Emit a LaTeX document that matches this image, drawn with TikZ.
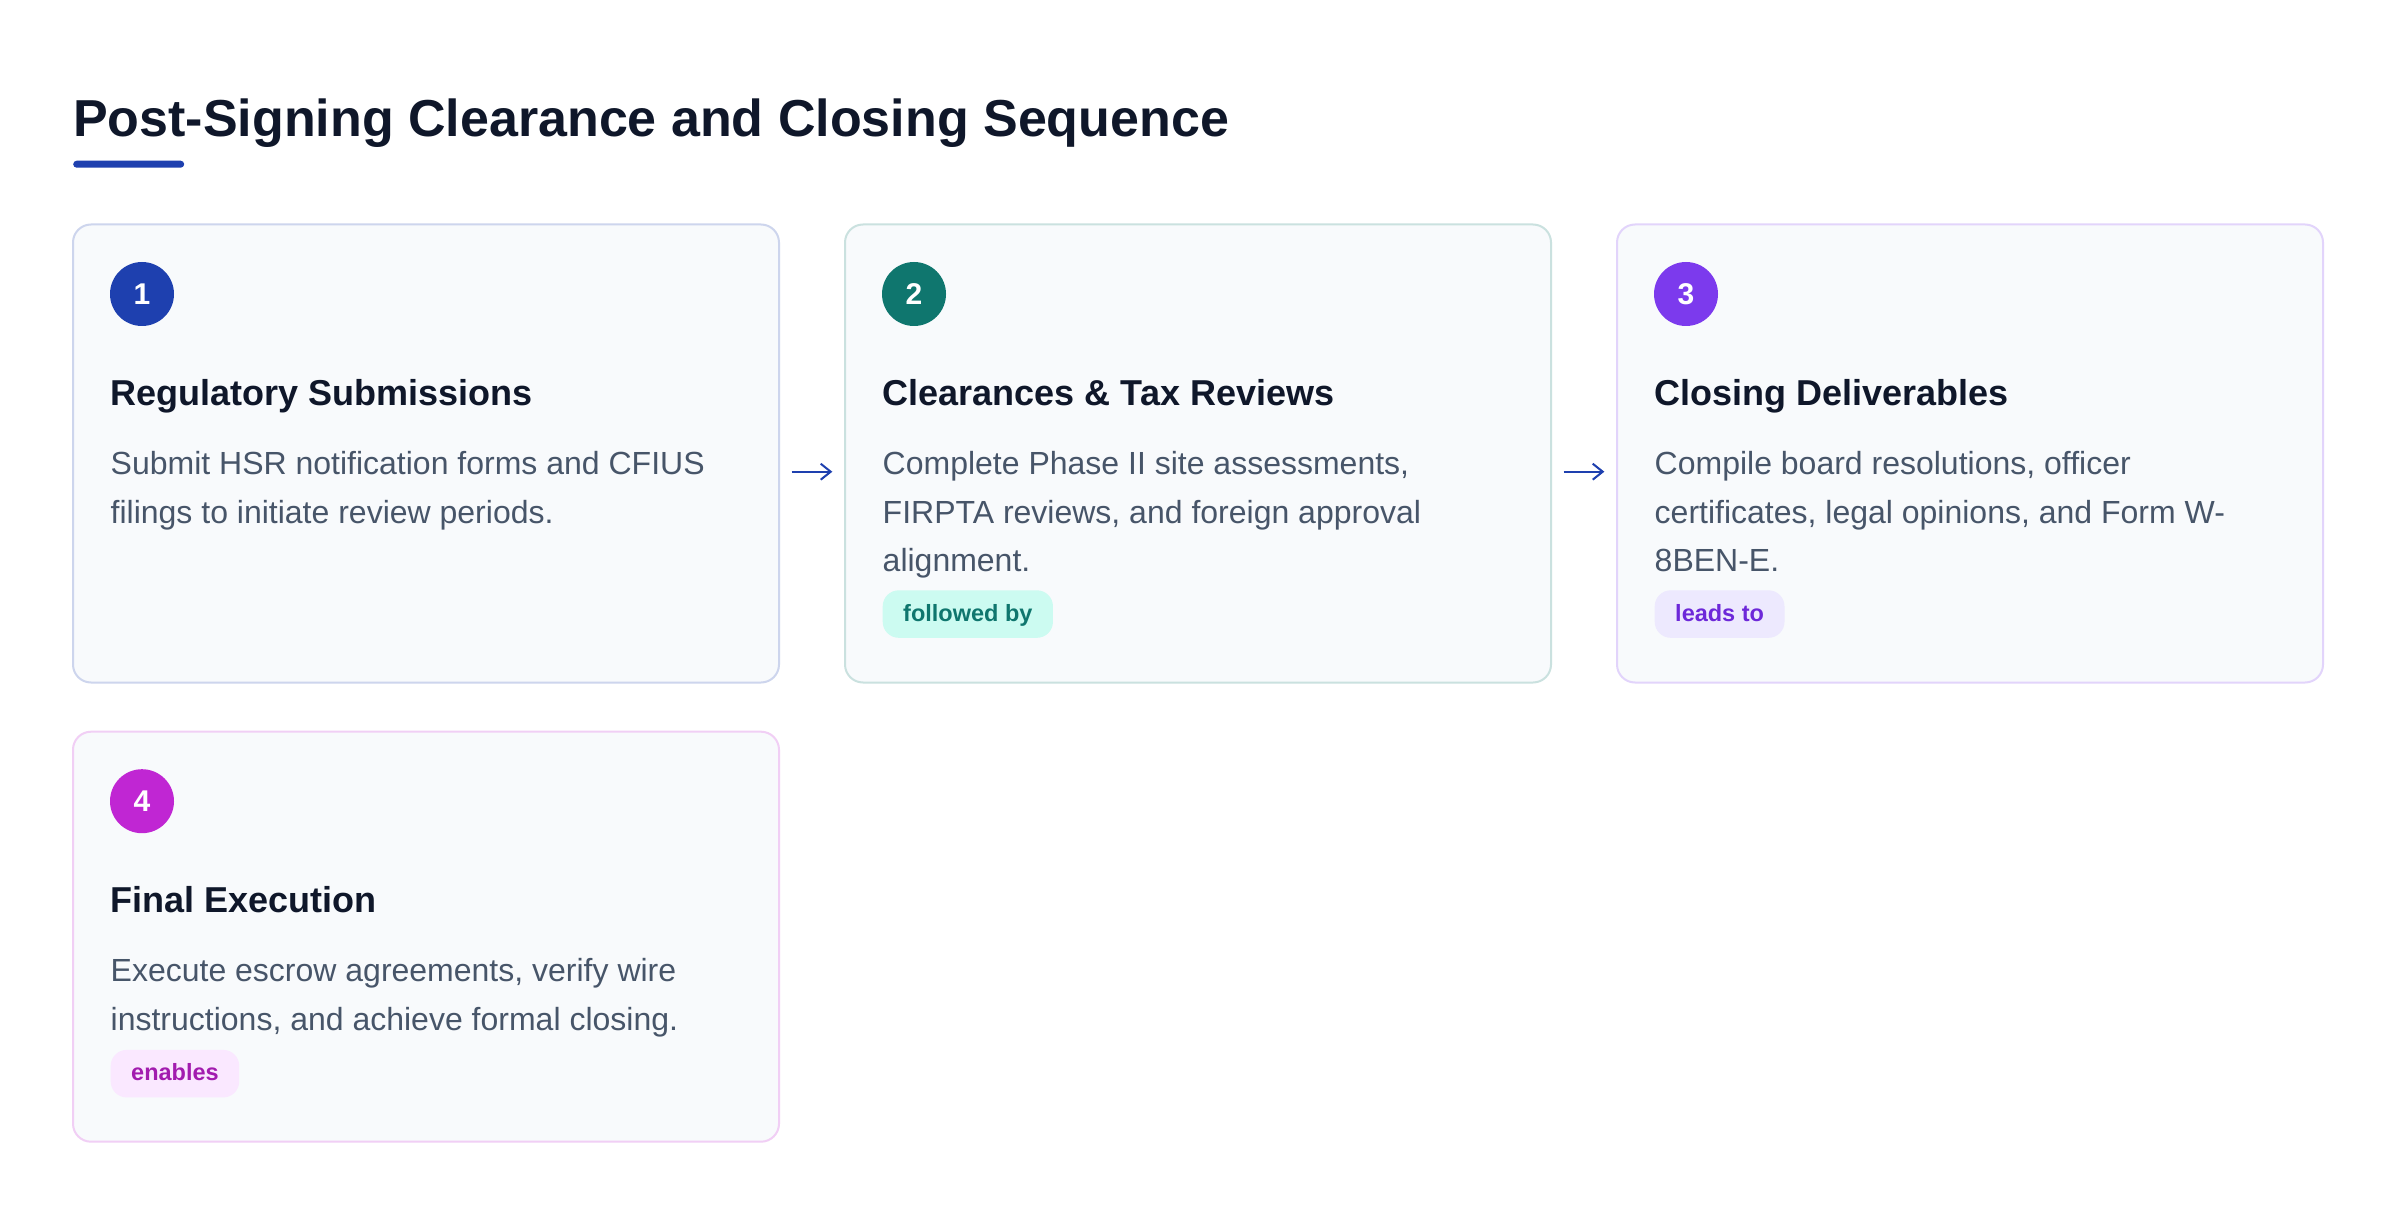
\documentclass[tikz,border=0pt]{standalone}
\usepackage{fontspec}
\setmainfont{Liberation Sans}
\usetikzlibrary{arrows.meta}
\definecolor{navy}{HTML}{0F172A}
\definecolor{slate}{HTML}{475569}
\definecolor{cardbg}{HTML}{F8FAFC}
\definecolor{cA}{HTML}{1E40AF}
\definecolor{cB}{HTML}{0F766E}
\definecolor{cC}{HTML}{7C3AED}
\definecolor{cD}{HTML}{C026D3}
\definecolor{pillBbg}{HTML}{CCFBF1}
\definecolor{pillBtx}{HTML}{0F766E}
\definecolor{pillCbg}{HTML}{EDE9FE}
\definecolor{pillCtx}{HTML}{6D28D9}
\definecolor{pillDbg}{HTML}{FAE8FF}
\definecolor{pillDtx}{HTML}{A21CAF}
\begin{document}
\begin{tikzpicture}[x=1pt,y=1pt,
  card/.style={draw=#1!22!white, line width=2pt, fill=cardbg, rounded corners=18pt,
    anchor=north west, inner sep=0pt, outer sep=0pt, minimum width=706pt},
  badge/.style={circle, fill=#1, text=white, minimum size=64pt, inner sep=0pt,
    font=\fontsize{30}{36}\selectfont\bfseries},
  heading/.style={anchor=base west, inner sep=0pt, text=navy,
    font=\fontsize{36}{43}\selectfont\bfseries},
  body/.style={anchor=north west, inner sep=0pt, align=left, text=slate,
    font=\fontsize{32}{48.3}\selectfont},
  pill/.style 2 args={fill=#1, text=#2, rounded corners=16pt, anchor=north west,
    inner xsep=20.5pt, inner ysep=0pt, minimum height=47.5pt, text height=17pt, text depth=3pt,
    font=\fontsize{23.5}{28}\selectfont\bfseries},
  flow/.style={draw=cA, line width=2pt, -{Straight Barb[length=10pt,width=16pt]},
    shorten <=12.7pt, shorten >=12.7pt}
]
\fill[white] (0,0) rectangle (2400,-1214);
\useasboundingbox (0,0) rectangle (2400,-1214);

% title
\node[anchor=base west, inner sep=0pt, text=navy, font=\fontsize{52}{60}\selectfont\bfseries]
  (title) at (73,-136.5) {Post-Signing Clearance and Closing Sequence};
\node[fill=cA, rounded corners=3.5pt, minimum width=111pt, minimum height=7pt, inner sep=0pt,
  anchor=north west] (bar) at (73,-160.5) {};

% cards
\node[card=cA, minimum height=458pt] (c1) at (73,-224.5) {};
\node[card=cB, minimum height=458pt] (c2) at (845,-224.5) {};
\node[card=cC, minimum height=458pt] (c3) at (1617,-224.5) {};
\node[card=cD, minimum height=410pt] (c4) at (73,-731.7) {};

% card 1
\node[badge=cA] (b1) at ([shift={(69,-69.5)}]c1.north west) {1};
\node[heading] (h1) at ([shift={(37.5,-180.5)}]c1.north west) {Regulatory Submissions};
\node[body] (t1) at ([shift={(37.5,-216.2)}]c1.north west)
  {\strut Submit HSR notification forms and CFIUS\\filings to initiate review periods.};

% card 2
\node[badge=cB] (b2) at ([shift={(69,-69.5)}]c2.north west) {2};
\node[heading] (h2) at ([shift={(37.5,-180.5)}]c2.north west) {Clearances \& Tax Reviews};
\node[body] (t2) at ([shift={(37.5,-216.2)}]c2.north west)
  {\strut Complete Phase II site assessments,\\FIRPTA reviews, and foreign approval\\alignment.};
\node[pill={pillBbg}{pillBtx}] (p2) at ([shift={(37.5,-365.6)}]c2.north west) {followed by};

% card 3
\node[badge=cC] (b3) at ([shift={(69,-69.5)}]c3.north west) {3};
\node[heading] (h3) at ([shift={(37.5,-180.5)}]c3.north west) {Closing Deliverables};
\node[body] (t3) at ([shift={(37.5,-216.2)}]c3.north west)
  {\strut Compile board resolutions, officer\\certificates, legal opinions, and Form W-\\8BEN-E.};
\node[pill={pillCbg}{pillCtx}] (p3) at ([shift={(37.5,-365.6)}]c3.north west) {leads to};

% card 4
\node[badge=cD] (b4) at ([shift={(69,-69.5)}]c4.north west) {4};
\node[heading] (h4) at ([shift={(37.5,-180.5)}]c4.north west) {Final Execution};
\node[body] (t4) at ([shift={(37.5,-216.2)}]c4.north west)
  {\strut Execute escrow agreements, verify wire\\instructions, and achieve formal closing.};
\node[pill={pillDbg}{pillDtx}] (p4) at ([shift={(37.5,-318)}]c4.north west) {enables};

% connectors
\draw[flow] ([yshift=-18.2pt]c1.east) -- ([yshift=-18.2pt]c2.west);
\draw[flow] ([yshift=-18.2pt]c2.east) -- ([yshift=-18.2pt]c3.west);
\end{tikzpicture}
\end{document}
